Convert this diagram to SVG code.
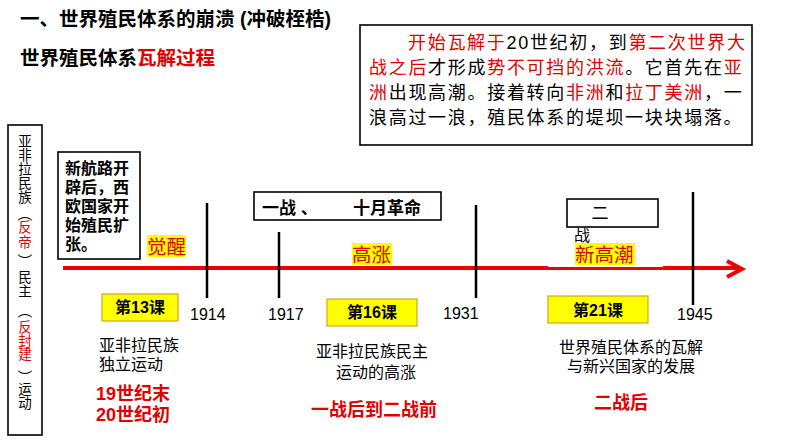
<svg xmlns="http://www.w3.org/2000/svg" width="794" height="447" viewBox="0 0 794 447">
<style>
.t{font-family:"Liberation Sans","Noto Sans CJK SC",sans-serif;fill:#000}
.b{font-weight:bold}
.r{fill:#e00000}
.box{fill:#fff;stroke:#000;stroke-width:1.6}
.yb{fill:#ffff00;stroke:#d9a21b;stroke-width:1.2}
.hl{fill:#ffff00}
.tick{stroke:#000;stroke-width:2.5}
.red{stroke:#ee0000;fill:none}
.c{text-anchor:middle}
.p{font-family:"Noto Sans CJK SC",sans-serif;text-anchor:middle;dominant-baseline:central;fill:#000}
</style>
<rect width="794" height="447" fill="#fff"/>

<g id="title">
<text class="t b" x="20" y="26" font-size="19.5">一、世界殖民体系的崩溃 (冲破桎梏)</text>
<text class="t b" x="20" y="65" font-size="19.5">世界殖民体系<tspan class="r">瓦解过程</tspan></text>
</g>

<g id="summary">
<rect class="box" x="360" y="25" width="392" height="120" stroke-width="2"/>
<text class="t" font-size="18" letter-spacing="1.7">
<tspan x="408" y="49"><tspan class="r">开始瓦解于</tspan>20世纪初，到<tspan class="r">第二次世界大</tspan></tspan>
<tspan x="369" y="74"><tspan class="r">战之后</tspan>才形成<tspan class="r">势不可挡的洪流</tspan>。它首先在<tspan class="r">亚</tspan></tspan>
<tspan x="369" y="99"><tspan class="r">洲</tspan>出现高潮。接着转向<tspan class="r">非洲</tspan>和<tspan class="r">拉丁美洲</tspan>，一</tspan>
<tspan x="369" y="124">浪高过一浪，殖民体系的堤坝一块块塌落。</tspan>
</text>
</g>

<g id="side-label">
<rect class="box" x="8" y="125" width="34" height="310"/>
<g class="t c" font-size="13.5">
<text x="25" y="145.5">亚</text>
<text x="25" y="159.5">非</text>
<text x="25" y="173.5">拉</text>
<text x="25" y="188">民</text>
<text x="25" y="202">族</text>
<text x="25" y="232" class="r">反</text>
<text x="25" y="247" class="r">帝</text>
<text x="25" y="282">民</text>
<text x="25" y="296">主</text>
<text x="25" y="332" class="r">反</text>
<text x="25" y="345.5" class="r">封</text>
<text x="25" y="359" class="r">建</text>
<text x="25" y="394">运</text>
<text x="25" y="408">动</text>
</g>
<g font-size="15">
<text class="p" transform="translate(25,214) rotate(90)">（</text>
<text class="p" transform="translate(25,261) rotate(90)">）</text>
<text class="p" transform="translate(25,311) rotate(90)">（</text>
<text class="p" transform="translate(25,377) rotate(90)">）</text>
</g>
</g>

<g id="new-route">
<rect class="box" x="58" y="152" width="82" height="107"/>
<text class="t b" font-size="16">
<tspan x="65" y="174">新航路开</tspan>
<tspan x="65" y="193">辟后，西</tspan>
<tspan x="65" y="212">欧国家开</tspan>
<tspan x="65" y="231">始殖民扩</tspan>
<tspan x="65" y="250">张。</tspan>
</text>
</g>

<g id="connectors">
<line class="red" x1="63" y1="268" x2="548" y2="268" stroke-width="4"/>
<line class="red" x1="548" y1="268.5" x2="663" y2="268.5" stroke-width="3"/>
<line class="red" x1="663" y1="268" x2="740" y2="268" stroke-width="4"/>
<polyline class="red" points="727,261 742,269 727,277" stroke-width="4"/>
<line class="tick" x1="207" y1="203" x2="207" y2="298"/>
<line class="tick" x1="279" y1="232" x2="279" y2="298"/>
<line class="tick" x1="476" y1="205" x2="476" y2="298"/>
<line class="tick" x1="693" y1="192" x2="693" y2="305"/>
</g>

<g id="years" class="t" font-size="16">
<text x="190" y="320">1914</text>
<text x="268" y="320">1917</text>
<text x="443" y="319">1931</text>
<text x="677" y="320">1945</text>
</g>

<g id="stage-awake">
<rect class="hl" x="147" y="235" width="39" height="22"/>
<text class="t r" x="147" y="254" font-size="19.5">觉醒</text>
</g>

<g id="stage-rise">
<rect class="hl" x="352" y="243" width="40" height="22"/>
<text class="t r" x="352" y="262" font-size="19.5">高涨</text>
</g>

<g id="stage-new">
<rect class="hl" x="575" y="243" width="60" height="22"/>
<text class="t r" x="575" y="262" font-size="19.5">新高潮</text>
</g>

<g id="ww1">
<rect class="box" x="254" y="192" width="187" height="28"/>
<text class="t b" font-size="17" y="214"><tspan x="262">一战 、</tspan><tspan x="353">十月革命</tspan></text>
</g>

<g id="ww2">
<rect class="box" x="567" y="199" width="91" height="28"/>
<text class="t c" x="600" y="219" font-size="17">二</text>
<text class="t" x="574" y="241" font-size="16">战</text>
</g>

<g id="lesson13">
<rect class="yb" x="102" y="294" width="76" height="27"/>
<text class="t b c" x="140" y="313" font-size="16">第13课</text>
<text class="t" font-size="16"><tspan x="99" y="351">亚非拉民族</tspan><tspan x="99" y="370">独立运动</tspan></text>
<text class="t b r" font-size="18"><tspan x="96" y="400">19世纪末</tspan><tspan x="96" y="421">20世纪初</tspan></text>
</g>

<g id="lesson16">
<rect class="yb" x="327" y="299" width="90" height="27"/>
<text class="t b c" x="372" y="318" font-size="16">第16课</text>
<text class="t c" font-size="16"><tspan x="372" y="357">亚非拉民族民主</tspan><tspan x="376" y="378">运动的高涨</tspan></text>
<text class="t b r c" x="374" y="416" font-size="18">一战后到二战前</text>
</g>

<g id="lesson21">
<rect class="yb" x="548" y="296" width="100" height="27"/>
<text class="t b c" x="598" y="316" font-size="16">第21课</text>
<text class="t c" font-size="16"><tspan x="631" y="353">世界殖民体系的瓦解</tspan><tspan x="631" y="372">与新兴国家的发展</tspan></text>
<text class="t b r c" x="621" y="409" font-size="18">二战后</text>
</g>
</svg>
